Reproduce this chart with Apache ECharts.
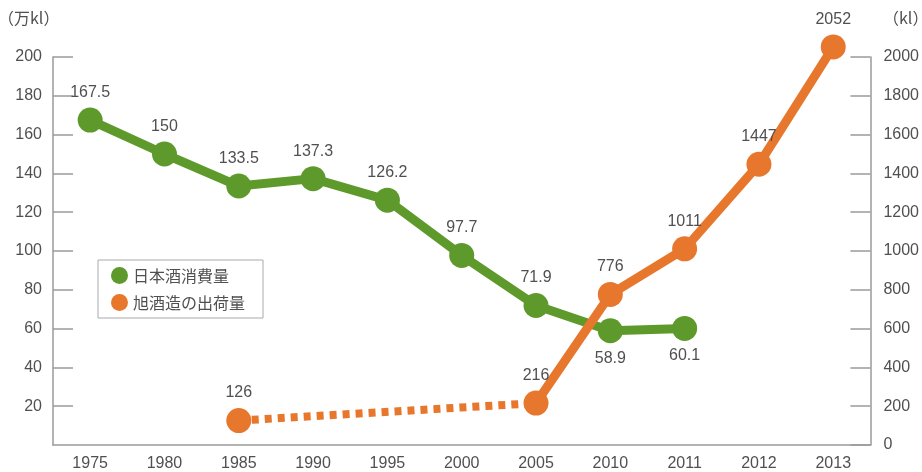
<!DOCTYPE html>
<html><head><meta charset="utf-8">
<script src="https://cdn.jsdelivr.net/npm/echarts@6/dist/echarts.min.js"></script>
<style>html,body{margin:0;padding:0;background:#fff}#c{width:922px;height:472px}</style>
</head><body><div id="c"></div>
<script>
const years = ['1975','1980','1985','1990','1995','2000','2005','2010','2011','2012','2013'];
const sakeConsumption = [167.5, 150, 133.5, 137.3, 126.2, 97.7, 71.9, 58.9, 60.1, null, null];
const asahiEarly = [null, null, 126, null, null, null, 216, null, null, null, null];
const asahiShipment = [null, null, null, null, null, null, 216, 776, 1011, 1447, 2052];
const belowLabels = ['2010','2011'];
const leftTicks = {min: 0, max: 200, interval: 20};
const rightTicks = {min: 0, max: 2000, interval: 200};
const seriesNames = ['日本酒消費量', '旭酒造の出荷量'];

const GREEN = '#5e9a2b', ORANGE = '#e8772e', TXT = '#505050', AX = '#9a9a9a';
const FONT = "'Liberation Sans', 'Noto Sans CJK JP', sans-serif";
const CJK = "'Noto Sans CJK JP', sans-serif";

const chart = echarts.init(document.getElementById('c'));
const lbl = (pos) => ({show: true, position: pos, distance: 7, color: TXT, fontSize: 16, fontFamily: FONT});
chart.setOption({
  animation: false,
  textStyle: {fontFamily: FONT},
  grid: {left: 53, right: 50, top: 57, bottom: 27},
  graphic: [
    {type: 'text', left: -2, top: 10, style: {text: '（万kl）', fill: TXT, fontSize: 16, fontFamily: CJK}},
    {type: 'text', left: 883, top: 10, style: {text: '（kl）', fill: TXT, fontSize: 16, fontFamily: CJK}}
  ],
  legend: {
    orient: 'vertical', left: 98, top: 260, data: seriesNames,
    icon: 'circle', itemWidth: 17, itemHeight: 17, itemGap: 10,
    borderColor: '#aaa', borderWidth: 1, padding: [7, 18, 7, 13],
    textStyle: {color: TXT, fontSize: 16, fontFamily: CJK}
  },
  xAxis: {
    type: 'category', data: years, boundaryGap: true,
    axisLine: {lineStyle: {color: AX, width: 1.5}},
    axisTick: {inside: true, length: 9, alignWithLabel: true, lineStyle: {color: AX, width: 1.5}},
    axisLabel: {color: TXT, fontSize: 16, margin: 11}
  },
  yAxis: [
    {type: 'value', min: leftTicks.min, max: leftTicks.max, interval: leftTicks.interval,
     axisLine: {show: true, lineStyle: {color: AX, width: 1.5}},
     axisTick: {show: true, inside: true, length: 20, lineStyle: {color: AX, width: 1.5}},
     axisLabel: {color: TXT, fontSize: 16, margin: 11, showMinLabel: false, formatter: v => String(v)},
     splitLine: {show: false}},
    {type: 'value', min: rightTicks.min, max: rightTicks.max, interval: rightTicks.interval,
     axisLine: {show: true, lineStyle: {color: AX, width: 1.5}},
     axisTick: {show: true, inside: true, length: 20, lineStyle: {color: AX, width: 1.5}},
     axisLabel: {color: TXT, fontSize: 16, margin: 13, formatter: v => String(v)},
     splitLine: {show: false}}
  ],
  series: [
    {name: seriesNames[0], type: 'line', yAxisIndex: 0, clip: false,
     data: sakeConsumption.map((v, i) => ({value: v, label: lbl(belowLabels.includes(years[i]) ? 'bottom' : 'top')})),
     symbol: 'circle', symbolSize: 25, itemStyle: {color: GREEN},
     lineStyle: {color: GREEN, width: 9}, z: 3},
    {name: seriesNames[1], type: 'line', yAxisIndex: 1, clip: false, connectNulls: true,
     data: asahiEarly.map((v, i) => ({value: v, label: lbl('top'), symbol: i === 6 ? 'none' : 'circle'})),
     symbol: 'circle', symbolSize: 25, itemStyle: {color: ORANGE},
     lineStyle: {color: ORANGE, width: 8, type: [7, 6], cap: 'butt'}, z: 2},
    {name: seriesNames[1], type: 'line', yAxisIndex: 1, clip: false,
     data: asahiShipment, label: lbl('top'),
     symbol: 'circle', symbolSize: 25, itemStyle: {color: ORANGE},
     lineStyle: {color: ORANGE, width: 9}, z: 4}
  ]
});
</script></body></html>
